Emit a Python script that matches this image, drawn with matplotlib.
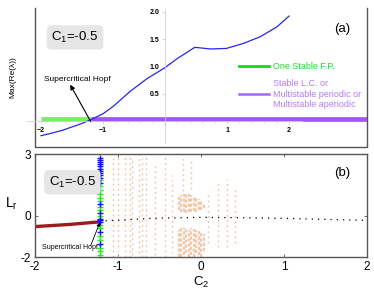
import matplotlib
matplotlib.use('Agg')
import matplotlib.pyplot as plt
from matplotlib.lines import Line2D

plt.rcParams['font.family'] = ['Liberation Sans', 'DejaVu Sans']

# panel (a): max real part of eigenvalues vs C2
c2_a = [-2.0, -1.85, -1.65, -1.5, -1.37, -1.2, -1.0, -0.84, -0.56, -0.29, 0.0, 0.19, 0.48, 0.73, 0.99, 1.26, 1.53, 1.80, 2.0]
maxre = [-0.26, -0.22, -0.16, -0.1, -0.05, 0.03, 0.14, 0.27, 0.55, 0.78, 0.98, 1.14, 1.35, 1.32, 1.33, 1.42, 1.54, 1.72, 1.92]
stable_x = [-2.0, -1.2]
lc_x = [-1.2, 3.4]
band_y = 0.04
hopf_a = (-1.2, 0.0)

# panel (b): Lyapunov / bifurcation data
red_x = [-2.0, -1.6, -1.22]
red_y = [-0.52, -0.42, -0.29]
dot_x = [-1.15, -0.6, 0.0, 0.5, 1.0, 1.5, 2.0]
dot_y = [-0.24, -0.12, -0.07, -0.09, -0.12, -0.17, -0.22]
hopf_c2 = -1.22
blue_y = [2.8, 2.7, 2.6, 2.5, 2.4, 2.3, 2.2, 2.1, 2.0, 1.85, 1.6, 0.6, 0.15, -0.15, -0.22, -0.3, -0.8, -1.35]
green_y = [1.75, 1.45, 1.25, 1.05, 0.85, 0.7, 0.45, 0.3, 0.0, -0.45, -0.6, -1.0, -1.15, -1.55, -1.7, -1.9]

# sparse stripes of chaotic/periodic points
stripe_x = [-1.06, -1.0, -0.92, -0.86, -0.83, -0.75, -0.71, -0.66, -0.55, -0.44, -0.35, -0.22, -0.12, 0.08, 0.2, 0.31, 0.41]
stripe_lo = [-2.0, -2.0, -2.0, -2.0, -1.9, -1.8, -2.0, -2.0, -1.9, -2.0, -1.8, 1.2, 1.3, -1.3, -1.5, -1.5, -1.3]
stripe_hi = [2.8, 3.0, 3.0, 2.9, 2.7, 3.0, 2.8, 3.0, 2.4, 3.0, 2.0, 2.9, 2.7, 1.1, 1.7, 1.8, 1.4]
# dense blobs
blob_x = [-0.27, -0.24, -0.21, -0.18, -0.15, -0.12, -0.09, -0.06, -0.03, 0.0, 0.03]
blob_top_lo = [0.3, 0.2, 0.2, 0.15, 0.2, 0.2, 0.25, 0.2, 0.3, 0.3, 0.4]
blob_top_hi = [0.9, 1.0, 1.05, 1.1, 1.05, 1.0, 0.95, 0.9, 0.8, 0.7, 0.6]
blob_bot_lo = [-2.0, -2.0, -1.9, -1.8, -2.0, -1.9, -2.0, -1.8, -1.9, -2.0, -1.7]
blob_bot_hi = [-0.7, -0.6, -0.6, -0.65, -0.7, -0.6, -0.65, -0.7, -0.75, -0.8, -0.9]

fig = plt.figure(figsize=(3.74, 3.01), dpi=100)

# ---------- (a) ----------
ax1 = fig.add_axes([0.0936, 0.512, 0.888, 0.461])
ax1.set_xlim(-2.097, 3.258)
ax1.set_ylim(-0.464, 2.064)
ax1.plot(stable_x, [band_y, band_y], color='#77ee66', lw=3.4, solid_capstyle='butt')
ax1.plot(lc_x, [band_y, band_y], color='#a155f7', lw=3.4, solid_capstyle='butt')
ax1.plot(c2_a, maxre, color='#2626f0', lw=0.9)

for s in ['top', 'right']:
    ax1.spines[s].set_visible(False)
ax1.spines['left'].set_position(('data', 0))
ax1.spines['bottom'].set_position(('data', 0))
ax1.spines['left'].set_bounds(-0.39, 2.04)
ax1.spines['bottom'].set_bounds(-2.23, 2.2)
for s in ['left', 'bottom']:
    ax1.spines[s].set_color('#d0d0d0')
    ax1.spines[s].set_linewidth(0.6)
ax1.set_xticks([-2, -1, 1, 2])
ax1.set_xticklabels(['\u22122', '\u22121', '1', '2'])
ax1.set_yticks([0.5, 1.0, 1.5, 2.0])
ax1.set_xticks([-1.8, -1.6, -1.4, -1.2, -0.8, -0.6, -0.4, -0.2, 0.2, 0.4, 0.6, 0.8,
                1.2, 1.4, 1.6, 1.8], minor=True)
ax1.tick_params(which='both', direction='out', color='#c8c8c8', width=0.5, labelsize=5, pad=1.5)
ax1.tick_params(which='major', length=2.5)
ax1.tick_params(which='minor', length=1.2)
for lb in ax1.get_xticklabels() + ax1.get_yticklabels():
    lb.set_fontweight('bold')
# box
ax1.plot([0, 0, 1, 1], [1, 0, 0, 1], transform=ax1.transAxes, color='#555555', lw=1, clip_on=False)

ax1.text(-1.45, 1.53, r'C$_{\mathregular{1}}$=-0.5', fontsize=9.5, ha='center', va='center',
         bbox=dict(boxstyle='round,pad=0.35', fc='#e6e6e6', ec='none'))
ax1.text(0.925, 0.85, '(a)', transform=ax1.transAxes, fontsize=9.5, ha='center', va='center')
ax1.annotate('', xy=(-1.53, 0.67), xytext=hopf_a,
             arrowprops=dict(arrowstyle='-|>', color='black', lw=0.8, mutation_scale=7, shrinkA=0, shrinkB=0))
ax1.text(-1.42, 0.77, 'Supercritical Hopf', fontsize=6, ha='center', va='center')
ax1.set_ylabel('Max(Re(\u03bb))', fontsize=6, labelpad=0)
ax1.yaxis.set_label_coords(-0.055, 0.5)

h1 = Line2D([], [], color='#11dd11', lw=2)
h2 = Line2D([], [], color='#a467f5', lw=1.8)
leg = ax1.legend([h1, h2], ['One Stable F.P.', 'Stable L.C. or\nMultistable periodic or\nMultistable aperiodic'],
                 loc='upper left', bbox_to_anchor=(0.59, 0.67), frameon=False, handlelength=3.3,
                 handletextpad=0.5, labelspacing=0.9, prop=dict(size=6.5))
leg.get_texts()[0].set_color('#22dd22')
leg.get_texts()[1].set_color('#b47cf2')

# ---------- (b) ----------
ax2 = fig.add_axes([0.0936, 0.146, 0.888, 0.342])
ax2.set_xlim(-2, 2)
ax2.set_ylim(-2, 3)
ax2.vlines(stripe_x, stripe_lo, stripe_hi, colors='#f1c4a2', lw=1.0, linestyles=[(0, (1.3, 2.4))])
ax2.vlines(blob_x, blob_top_lo, blob_top_hi, colors='#f2c8aa', lw=1.6, linestyles=[(0, (1.5, 0.8))])
ax2.vlines(blob_x, blob_bot_lo, blob_bot_hi, colors='#f2c8aa', lw=1.6, linestyles=[(0, (1.5, 0.8))])
ax2.plot(red_x, red_y, color='#9b1c1c', lw=2.4)
ax2.plot(dot_x, dot_y, color='black', lw=0.9, linestyle=(0, (1, 4)))
ax2.plot([hopf_c2] * len(green_y), green_y, '+', color='#22ee22', ms=5, mew=1.0, clip_on=False)
ax2.plot([hopf_c2] * len(blue_y), blue_y, '+', color='#1515ff', ms=5, mew=1.0, clip_on=False)

ax2.set_xticks([-2, -1, 0, 1, 2])
ax2.set_xticklabels(['-2', '-1', '0', '1', '2'])
ax2.set_yticks([-2, 0, 3])
ax2.set_yticklabels(['-2', '0', '3'])
ax2.tick_params(direction='in', length=2.5, width=0.6, color='#555555', labelsize=8.5,
                top=True, right=True, pad=3)
for s in ax2.spines.values():
    s.set_color('#555555')
    s.set_linewidth(1)

ax2.text(-1.55, 1.64, r'C$_{\mathregular{1}}$=-0.5', fontsize=9.5, ha='center', va='center',
         bbox=dict(boxstyle='round,pad=0.35', fc='#e6e6e6', ec='none'))
ax2.text(0.925, 0.82, '(b)', transform=ax2.transAxes, fontsize=9.5, ha='center', va='center')
ax2.annotate('', xy=(hopf_c2, -0.33), xytext=(-1.33, -1.45),
             arrowprops=dict(arrowstyle='-|>', color='black', lw=0.6, mutation_scale=5, shrinkA=0, shrinkB=0))
ax2.text(-1.58, -1.55, 'Supercritical Hopf', fontsize=5, ha='center', va='center')
ax2.set_xlabel(r'C$_{\mathregular{2}}$', fontsize=9.5, labelpad=1)
ax2.set_ylabel(r'L$_{\mathregular{r}}$', fontsize=10, rotation=0, labelpad=2, va='center')
ax2.yaxis.set_label_coords(-0.07, 0.52)

fig.savefig('out.png', dpi=100)
